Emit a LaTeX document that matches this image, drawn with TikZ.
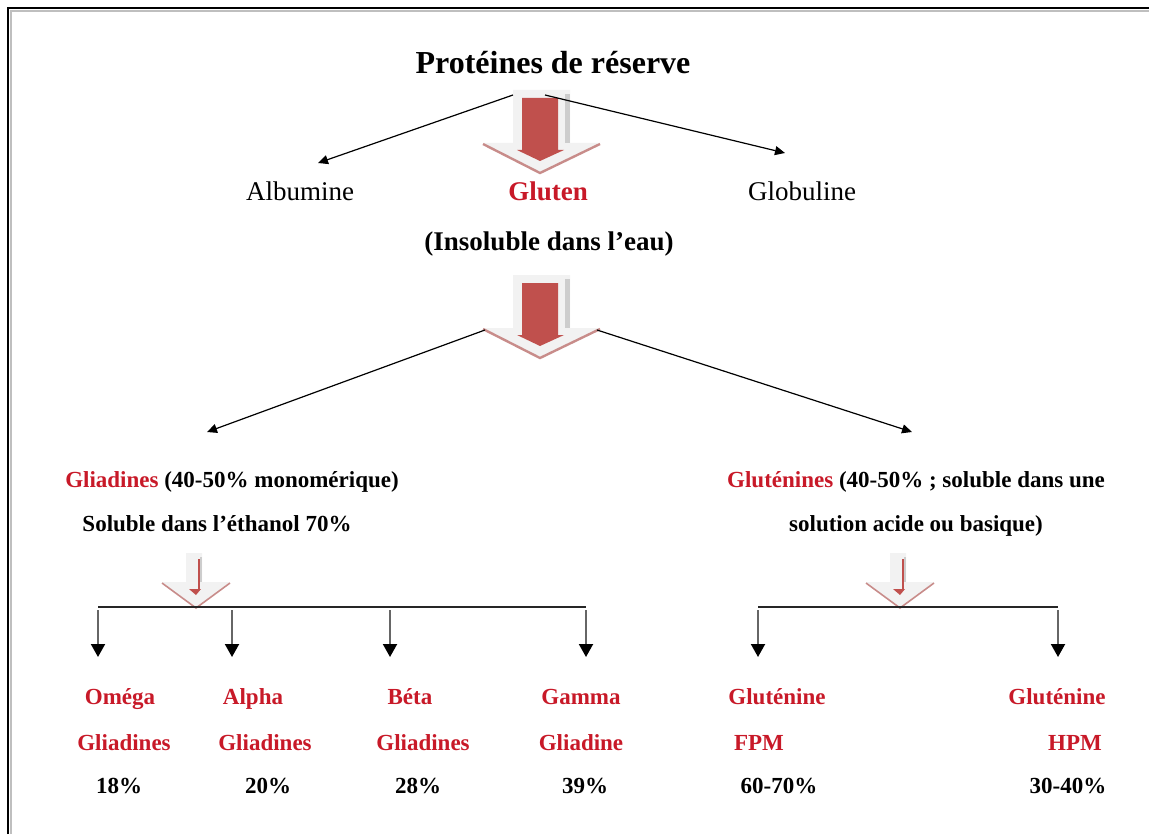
\documentclass[tikz,border=0pt]{standalone}
\usepackage{fontspec}
\setmainfont{Liberation Serif}
\usetikzlibrary{arrows.meta}
\definecolor{redtxt}{RGB}{200,25,40}
\definecolor{arrred}{RGB}{192,80,77}
\definecolor{arrpink}{RGB}{200,140,138}
\definecolor{arrlight}{RGB}{242,242,242}
\definecolor{arrgray}{RGB}{205,205,205}
\tikzset{
  lbl/.style={inner sep=0pt, anchor=center},
  title/.style={lbl, font=\bfseries\fontsize{16}{18}\selectfont},
  mid/.style={lbl, font=\fontsize{13.5}{15}\selectfont, text height=1.6ex, text depth=0.4ex},
  midb/.style={lbl, font=\bfseries\fontsize{13.5}{15}\selectfont, text height=1.6ex, text depth=0.4ex},
  small/.style={lbl, font=\bfseries\fontsize{11.5}{13}\selectfont, text height=1.6ex, text depth=0.4ex},
  conn/.style={line width=0.6pt, -{Triangle[length=5pt,width=4.5pt]}},
  drop/.style={line width=1pt, draw=black!60, -{Triangle[length=6.5pt,width=7pt,color=black]}},
  hbar/.style={line width=1pt, draw=black!85},
  bigarrow/.pic={
    % outer light body
    \fill[arrlight] (-27,0) -- (30,0) -- (30,53) -- (60,53) -- (0,82) -- (-57,53) -- (-27,53) -- cycle;
    \fill[arrgray] (25,4) rectangle (30,53);
    \draw[arrpink, line width=1.2pt] (-57,54) -- (0,83) -- (60,54);
    % red inner arrow
    \fill[arrred] (-18,8) -- (18,8) -- (18,60) -- (24,60) -- (0,71) -- (-23,60) -- (-18,60) -- cycle;
  },
  smallarrow/.pic={
    \fill[arrlight] (-10,0) -- (6,0) -- (6,29) -- (34,29) -- (0,54) -- (-34,29) -- (-10,29) -- cycle;
    \fill[arrgray] (4,4) rectangle (6,29);
    \draw[arrpink, line width=0.8pt] (-34,30) -- (0,55) -- (34,30);
    \draw[arrred, line width=0.6pt] (3,6) -- (3,36);
    \fill[arrred] (-7,36) -- (5,36) -- (0,42) -- cycle;
  }
}
\begin{document}
\begin{tikzpicture}[x=0.5pt,y=-0.5pt]
\useasboundingbox (0,0) rectangle (1149,834);
\fill[white] (0,0) rectangle (1149,834);
% frame
\draw[line width=1.4pt, black] (8,834) -- (8,8) -- (1149,8);
\draw[line width=0.6pt, black!25] (11,834) -- (11,11) -- (1149,11);

% titles
\node[title] (prot) at (553,63) {Protéines de réserve};
\pic at (540,90) {bigarrow};
\node[mid] (alb) at (300,195) {Albumine};
\node[midb, text=redtxt] (glut) at (548,195) {Gluten};
\node[mid] (glob) at (802,195) {Globuline};
\node[midb] (insol) at (549,245) {(Insoluble dans l’eau)};
\pic at (540,275) {bigarrow};

\coordinate (p1) at (513,95);
\coordinate (p2) at (545,95);
\coordinate (a1) at (318,163);
\coordinate (a2) at (785,153);
\draw[conn] (p1) -- (a1);
\draw[conn] (p2) -- (a2);

\coordinate (q1) at (485,330);
\coordinate (q2) at (597,330);
\coordinate (b1) at (207,432);
\coordinate (b2) at (912,432);
\draw[conn] (q1) -- (b1);
\draw[conn] (q2) -- (b2);

% second level
\node[small] (glia) at (232,482) {\textcolor{redtxt}{Gliadines} (40-50\% monomérique)};
\node[small] (glia2) at (217,526) {Soluble dans l’éthanol 70\%};
\node[small] (glut1) at (916,482) {\textcolor{redtxt}{Gluténines} (40-50\% ; soluble dans une};
\node[small] (glut2) at (916,526) {solution acide ou basique)};

\pic at (196,553) {smallarrow};
\pic at (900,553) {smallarrow};

% bars
\coordinate (hl1) at (98,607);
\coordinate (hl2) at (586,607);
\draw[hbar] (hl1) -- (hl2);
\coordinate (hr1) at (758,607);
\coordinate (hr2) at (1058,607);
\draw[hbar] (hr1) -- (hr2);

\foreach \x/\n in {98/d1,232/d2,390/d3,586/d4,758/d5,1058/d6}{
  \coordinate (\n s) at (\x,610);
  \coordinate (\n e) at (\x,657);
  \draw[drop] (\n s) -- (\n e);
}

% leaf labels
\node[small, text=redtxt] (om1) at (120,699) {Oméga};
\node[small, text=redtxt] (om2) at (124,745) {Gliadines};
\node[small] (om3) at (119,788) {18\%};
\node[small, text=redtxt] (al1) at (253,699) {Alpha};
\node[small, text=redtxt] (al2) at (265,745) {Gliadines};
\node[small] (al3) at (268,788) {20\%};
\node[small, text=redtxt] (be1) at (410,699) {Béta};
\node[small, text=redtxt] (be2) at (423,745) {Gliadines};
\node[small] (be3) at (418,788) {28\%};
\node[small, text=redtxt] (ga1) at (581,699) {Gamma};
\node[small, text=redtxt] (ga2) at (581,745) {Gliadine};
\node[small] (ga3) at (585,788) {39\%};
\node[small, text=redtxt] (fp1) at (777,699) {Gluténine};
\node[small, text=redtxt] (fp2) at (759,745) {FPM};
\node[small] (fp3) at (779,788) {60-70\%};
\node[small, text=redtxt] (hp1) at (1057,699) {Gluténine};
\node[small, text=redtxt] (hp2) at (1075,745) {HPM};
\node[small] (hp3) at (1068,788) {30-40\%};
\end{tikzpicture}
\end{document}
